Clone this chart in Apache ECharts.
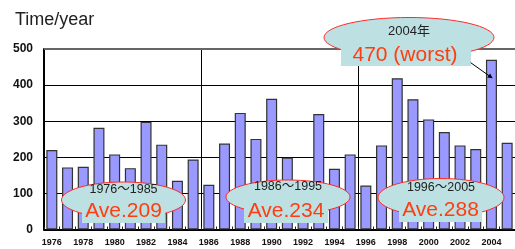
<!DOCTYPE html>
<html>
<head>
<meta charset="utf-8">
<script src="https://cdn.jsdelivr.net/npm/echarts@6/dist/echarts.min.js"></script>
<style>
  html, body { margin: 0; padding: 0; background: #fff; }
  #chart { width: 515px; height: 249px; }
</style>
</head>
<body>
<div id="chart"></div>
<script>
const years = ['1976', '1977', '1978', '1979', '1980', '1981', '1982', '1983', '1984', '1985',
  '1986', '1987', '1988', '1989', '1990', '1991', '1992', '1993', '1994', '1995',
  '1996', '1997', '1998', '1999', '2000', '2001', '2002', '2003', '2004', '2005']
const counts = [220, 172, 174, 282, 208, 170, 298, 235, 135, 194,
  124, 238, 323, 251, 362, 199, 130, 320, 168, 208,
  122, 233, 419, 361, 305, 270, 233, 223, 470, 240]
const yTicks = [0, 100, 200, 300, 400, 500]
const periodLabels = ['1976〜1985', '1986〜1995', '1996〜2005']
const periodAverages = ['Ave.209', 'Ave.234', 'Ave.288']
const worstLabel = '2004年'
const worstValue = '470 (worst)'

const chart = echarts.init(document.getElementById('chart'))

const bubbleFill = '#bde0e3'
const bubbleStroke = '#ff2a2a'
const aveColor = '#ff3d0f'
const font = '"Liberation Sans", Arial, "Noto Sans CJK JP", sans-serif'

// ellipse + box annotations: [cx, cy, rx, ry, boxX, boxY, boxW, boxH]
const bubbles = [
  [123.5, 200, 62, 18, 82, 201, 83, 22],
  [288, 197, 62, 17, 244, 201, 84, 22],
  [441, 197.5, 63, 19, 399, 200, 83, 22]
]

const graphics = []
bubbles.forEach((b, i) => {
  graphics.push({
    type: 'ellipse', z: 100,
    shape: { cx: b[0], cy: b[1], rx: b[2], ry: b[3] },
    style: { fill: bubbleFill, stroke: bubbleStroke, lineWidth: 1 }
  })
  graphics.push({
    type: 'rect', z: 101,
    shape: { x: b[4], y: b[5], width: b[6], height: b[7] },
    style: { fill: bubbleFill }
  })
  graphics.push({
    type: 'text', z: 102, x: b[0], y: b[1] - 10,
    style: { text: periodLabels[i], font: '12.5px ' + font, fill: '#222', align: 'center', verticalAlign: 'middle' }
  })
  graphics.push({
    type: 'text', z: 102, x: b[4] + b[6] / 2, y: b[5] + 10,
    style: { text: periodAverages[i], font: '21px ' + font, fill: aveColor, align: 'center', verticalAlign: 'middle' }
  })
})

// worst year callout
graphics.push(
  {
    type: 'ellipse', z: 100,
    shape: { cx: 409, cy: 37.5, rx: 85, ry: 20 },
    style: { fill: bubbleFill, stroke: bubbleStroke, lineWidth: 1 }
  },
  {
    type: 'rect', z: 101,
    shape: { x: 341, y: 44, width: 130, height: 22 },
    style: { fill: bubbleFill }
  },
  {
    type: 'text', z: 102, x: 409, y: 31,
    style: { text: worstLabel, font: '13px ' + font, fill: '#222', align: 'center', verticalAlign: 'middle' }
  },
  {
    type: 'text', z: 102, x: 405, y: 55,
    style: { text: worstValue, font: '21px ' + font, fill: aveColor, align: 'center', verticalAlign: 'middle' }
  },
  {
    type: 'line', z: 102,
    shape: { x1: 470.7, y1: 62.7, x2: 490, y2: 76.4 },
    style: { stroke: '#000', lineWidth: 1 }
  },
  {
    type: 'polygon', z: 102,
    shape: { points: [[492.7, 78.3], [487.2, 77.4], [490.1, 73.4]] },
    style: { fill: '#000' }
  }
)

const option = {
  animation: false,
  title: {
    text: 'Time/year',
    left: 10,
    top: 6,
    textStyle: { fontFamily: font, fontSize: 18, fontWeight: 'normal', color: '#222' }
  },
  grid: { left: 44, top: 49, width: 477, height: 180.5 },
  xAxis: {
    type: 'category',
    data: years,
    axisLine: { lineStyle: { color: '#000', width: 2 } },
    axisTick: { show: true, inside: true, length: 3, interval: 0, lineStyle: { color: '#222', width: 1 } },
    axisLabel: {
      interval: 1,
      margin: 9,
      fontFamily: font,
      fontSize: 9,
      fontWeight: 'bold',
      color: '#111'
    },
    splitLine: {
      show: true,
      interval: (index) => index === 10 || index === 20,
      lineStyle: { color: '#000', width: 1 }
    }
  },
  yAxis: {
    type: 'value',
    min: yTicks[0],
    max: yTicks[yTicks.length - 1],
    interval: 100,
    axisLine: { show: true, lineStyle: { color: '#000', width: 2 } },
    axisTick: { show: false },
    axisLabel: {
      margin: 11,
      fontFamily: font,
      fontSize: 12,
      fontWeight: 'bold',
      color: '#111'
    },
    splitLine: { lineStyle: { color: '#000', width: 1 } }
  },
  series: [
    {
      type: 'bar',
      data: counts,
      barWidth: 11,
      itemStyle: { color: '#9999ff', borderColor: '#333', borderWidth: 1.2 },
      markLine: {
        silent: true,
        symbol: 'none',
        label: { show: false },
        lineStyle: { color: '#666', width: 2, type: 'solid' },
        data: [{ yAxis: yTicks[yTicks.length - 1] }]
      }
    }
  ],
  graphic: graphics
}

chart.setOption(option)
</script>
</body>
</html>
